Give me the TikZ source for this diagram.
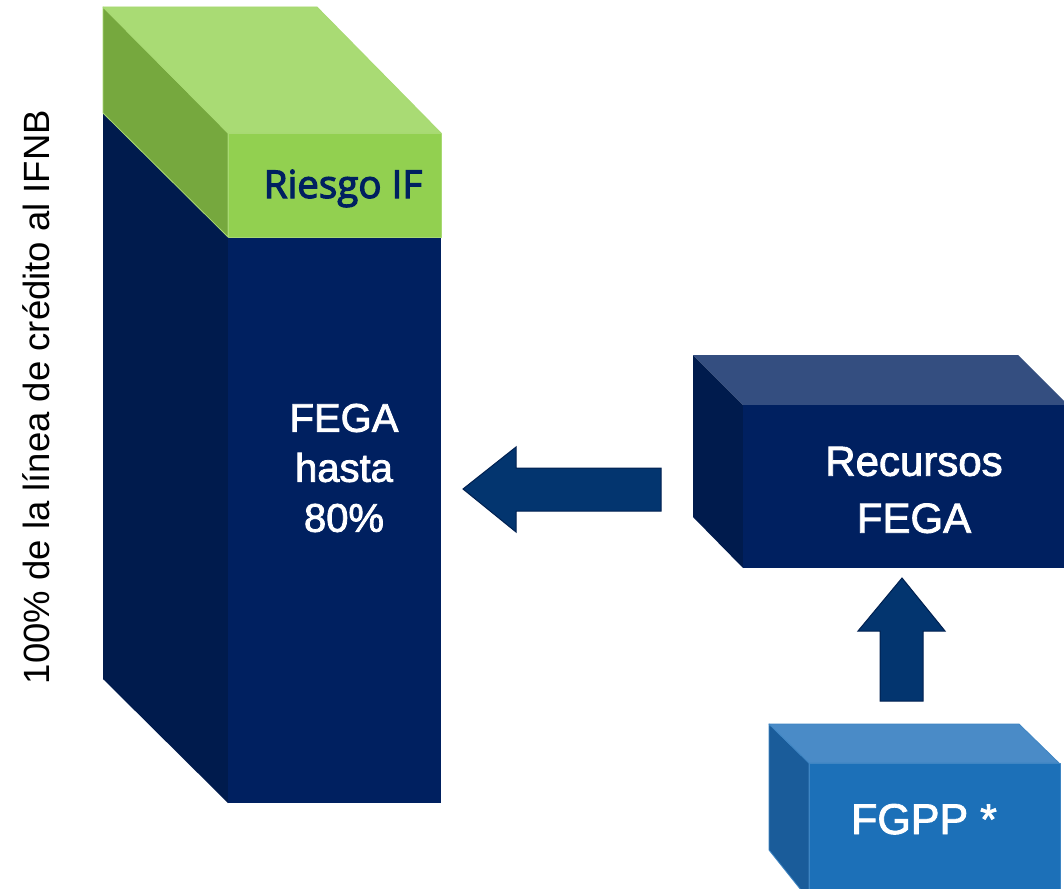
\documentclass[tikz,border=0pt]{standalone}
\usepackage{fontspec}
\setmainfont[FakeBold=2]{Liberation Sans}
\newfontfamily\riesgofont[FakeBold=3]{Open Sans}
\newfontfamily\plainfont{Liberation Sans}
\definecolor{navyfront}{RGB}{0,32,96}
\definecolor{navyside}{RGB}{0,27,77}
\definecolor{navytop}{RGB}{52,78,128}
\definecolor{greenfront}{RGB}{146,208,80}
\definecolor{greentop}{RGB}{169,219,116}
\definecolor{greenside}{RGB}{118,168,62}
\definecolor{bluefront}{RGB}{28,112,184}
\definecolor{bluetop}{RGB}{74,139,199}
\definecolor{blueside}{RGB}{26,92,154}
\definecolor{arrowfill}{RGB}{3,53,111}
\definecolor{arrowline}{RGB}{0,32,80}
\begin{document}
\begin{tikzpicture}[x=1pt,y=-1pt,
  greenface/.style={draw=greenfront!80!white, line width=0.8pt, line join=round},
  blueface/.style={draw=bluefront!85!white, line width=0.8pt, line join=round},
  blockarrow/.style={fill=arrowfill, draw=arrowline, line width=1pt, line join=miter},
  whitetext/.style={text=white, inner sep=0pt, align=center},
  sidelabel/.style={text=black, inner sep=0pt}]
\useasboundingbox (0,0) rectangle (1064,888);
\clip (0,0) rectangle (1064,888);
\fill[white] (0,0) rectangle (1064,888);

% tall block: navy part
\fill[navyside] (103,113) -- (228,237) -- (228,803) -- (103,679) -- cycle;
\fill[navyfront] (228,237) rectangle (441,803);
% green cap
\filldraw[greenface, fill=greenside] (103,7) -- (228,133) -- (228,237) -- (103,113) -- cycle;
\filldraw[greenface, fill=greentop] (103,7) -- (317,7) -- (441,133) -- (228,133) -- cycle;
\filldraw[greenface, fill=greenfront] (228,133) rectangle (441,237);

% Recursos FEGA block
\fill[navyside] (693,355) -- (743,405) -- (743,568) -- (693,517) -- cycle;
\fill[navytop] (693,355) -- (1018,355) -- (1068,405) -- (743,405) -- cycle;
\fill[navyfront] (743,405) rectangle (1070,568);

% FGPP block
\filldraw[blueface, fill=blueside] (769,724) -- (809,763) -- (809,900) -- (769,850) -- cycle;
\filldraw[blueface, fill=bluetop] (769,724) -- (1019,724) -- (1059,763) -- (809,763) -- cycle;
\filldraw[blueface, fill=bluefront] (809,763) rectangle (1060,900);

% arrows
\filldraw[blockarrow] (463,489) -- (516,447) -- (516,468) -- (661,468) -- (661,511) -- (516,511) -- (516,532) -- cycle;
\filldraw[blockarrow] (902,578) -- (945,631) -- (923,631) -- (923,701) -- (880,701) -- (880,631) -- (858,631) -- cycle;

% texts
\node[inner sep=0pt, anchor=base, text=navyfront, font=\riesgofont\fontsize{38.5}{40}\selectfont] (riesgo) at (343,198) {Riesgo IF};
\node[whitetext, anchor=center, font=\fontsize{40}{50}\selectfont] (fega) at (344,468) {FEGA\\hasta\\80\%};
\node[whitetext, anchor=center, font=\fontsize{42}{57}\selectfont] (recursos) at (914,490) {Recursos\\FEGA};
\node[whitetext, anchor=base, font=\fontsize{43}{50}\selectfont] (fgpp) at (924,834) {FGPP *};
\node[sidelabel, anchor=base, rotate=90, font=\plainfont\fontsize{36.5}{40}\selectfont] (linea) at (49,397) {100\% de la línea de crédito al IFNB};
\end{tikzpicture}
\end{document}
